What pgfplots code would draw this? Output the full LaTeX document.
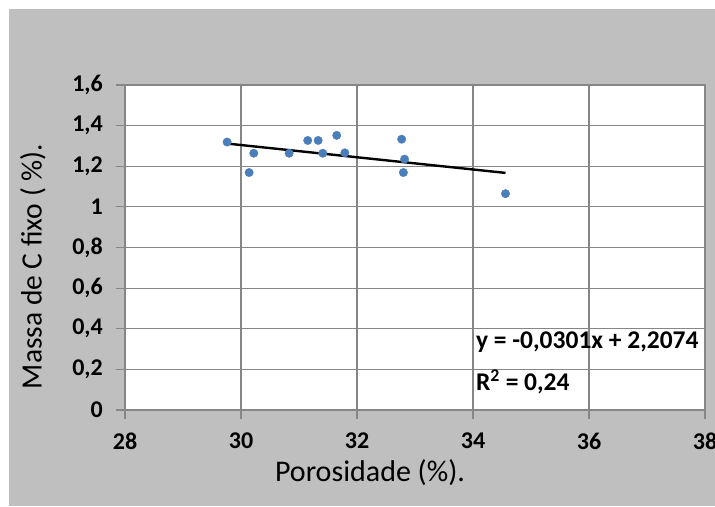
\documentclass[border=0pt]{standalone}
\usepackage{pgfplots}
\pgfplotsset{compat=1.18}
\usepackage{fontspec}
\setmainfont{Carlito}
\definecolor{bg}{RGB}{191,191,191}
\definecolor{gridc}{RGB}{134,134,134}
\definecolor{ptblue}{RGB}{74,126,187}
\pgfplotstableread{
x y
29.76 1.319
30.14 1.169
30.22 1.264
30.83 1.264
31.15 1.327
31.33 1.327
31.41 1.264
31.65 1.352
31.79 1.266
32.77 1.333
32.82 1.235
32.80 1.169
34.56 1.065
}\pts
\begin{document}
\begin{tikzpicture}[x=1bp,y=1bp]
\path[use as bounding box] (0,0) rectangle (715,507);
\fill[bg] (9,1) rectangle (715,497.5);
\begin{axis}[
  at={(125bp,97bp)}, anchor=south west,
  scale only axis, width=580bp, height=325bp,
  xmin=28, xmax=38, ymin=0, ymax=1.6,
  xtick={28,30,32,34,36,38},
  ytick={0,0.2,0.4,0.6,0.8,1,1.2,1.4,1.6},
  grid=major, major grid style={gridc, line width=1.2bp},
  axis line style={gridc, line width=1.2bp},
  tick style={gridc, line width=1.2bp},
  major tick length=9bp, tick align=outside, tick pos=left,
  axis background/.style={fill=white},
  /pgf/number format/.cd, use comma, fixed, precision=1, assume math mode=true,
  /pgfplots/.cd,
  ticklabel style={font=\bfseries\fontsize{24bp}{24bp}\selectfont},
  xticklabel style={anchor=north, inner sep=0pt, yshift=-14bp},
  yticklabel style={anchor=east, inner sep=0pt, xshift=-13bp},
  clip=false,
]
\addplot[only marks, mark=*, mark size=4.2bp, mark options={fill=ptblue, draw=ptblue}] table[x=x,y=y] {\pts};
\addplot[black, line width=2.4bp] coordinates {(29.76,1.3116) (34.56,1.1672)};
\node[anchor=west, inner sep=0pt, font=\bfseries\fontsize{25.5bp}{25.5bp}\selectfont] at (axis cs:34.05,0.335) {y = -0,0301x + 2,2074};
\node[anchor=west, inner sep=0pt, font=\bfseries\fontsize{25.5bp}{25.5bp}\selectfont] at (axis cs:34.05,0.138) {R\textsuperscript{2} = 0,24};
\end{axis}
\node[anchor=base, inner sep=0pt, font=\fontsize{30bp}{30bp}\selectfont] at (370,25) {Porosidade (\%).};
\node[anchor=base, rotate=90, inner sep=0pt, font=\fontsize{29.5bp}{29.5bp}\selectfont] at (41.7,240.5) {Massa de C fixo ( \%).};
\end{tikzpicture}
\end{document}
